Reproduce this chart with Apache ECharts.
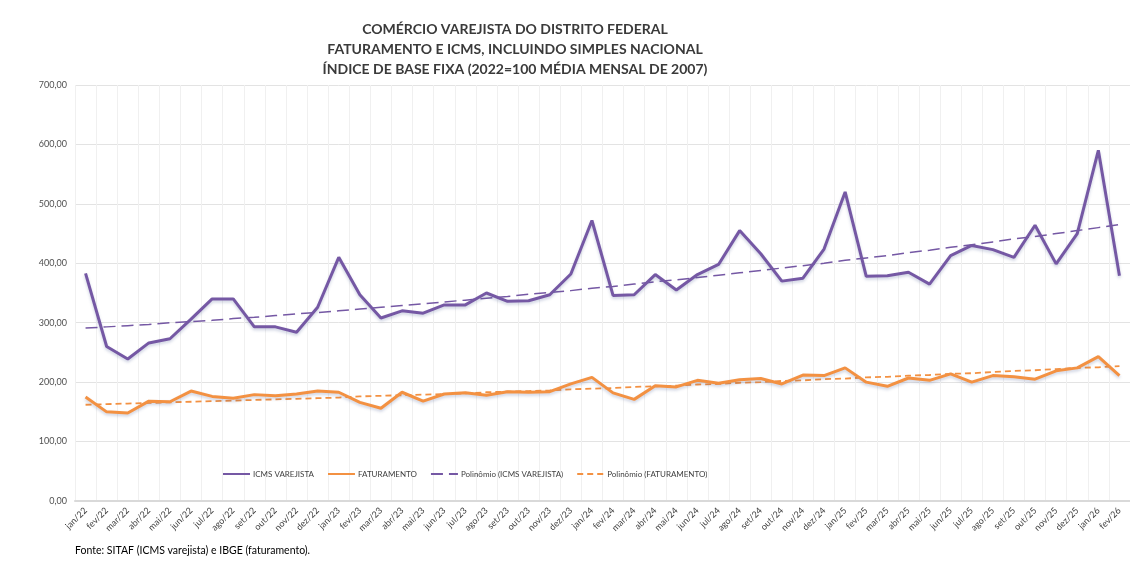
<!DOCTYPE html>
<html>
<head>
<meta charset="utf-8">
<script src="https://cdn.jsdelivr.net/npm/echarts@6/dist/echarts.min.js"></script>
<style>
html,body{margin:0;padding:0;background:#fff;}
#chart{width:1130px;height:564px;}
</style>
</head>
<body>
<div id="chart"></div>
<script>
const categories = ['jan/22','fev/22','mar/22','abr/22','mai/22','jun/22','jul/22','ago/22','set/22','out/22','nov/22','dez/22',
  'jan/23','fev/23','mar/23','abr/23','mai/23','jun/23','jul/23','ago/23','set/23','out/23','nov/23','dez/23',
  'jan/24','fev/24','mar/24','abr/24','mai/24','jun/24','jul/24','ago/24','set/24','out/24','nov/24','dez/24',
  'jan/25','fev/25','mar/25','abr/25','mai/25','jun/25','jul/25','ago/25','set/25','out/25','nov/25','dez/25',
  'jan/26','fev/26'];

const icmsVarejista = [383,260,239,266,273,306,340,340,293,293,284,326,
  410,347,308,320,316,330,330,350,336,337,347,382,
  472,346,347,381,355,381,398,455,416,370,375,424,
  520,378,379,385,365,413,430,423,410,464,399,450,
  590,379];

const faturamento = [175,150,148,168,167,185,176,173,179,177,180,185,
  183,166,156,183,168,180,182,178,184,183,184,197,
  208,182,171,194,192,203,198,204,206,197,212,211,
  224,200,193,207,203,214,200,211,209,205,219,224,
  243,211];

const polIcms = [291,293,295,297,300,302,304,307,309,312,315,317,
  320,323,326,329,332,335,338,341,344,348,351,354,
  358,361,365,369,372,376,380,384,388,392,396,400,
  405,409,413,418,422,427,431,436,441,445,450,455,
  460,465];

const polFat = [162,163,164,165,166,167,168,169,170,171,172,173,
  174,176,177,178,179,180,181,183,184,185,186,188,
  189,190,192,193,194,196,197,199,200,202,203,205,
  206,208,209,211,212,214,215,217,219,220,222,224,
  225,227];

const yTicks = [0,100,200,300,400,500,600,700];

const purple = '#7558a4';
const orange = '#f39142';
const font = 'Lato, "Open Sans", sans-serif';

const chart = echarts.init(document.getElementById('chart'), null, {renderer:'canvas'});
chart.setOption({
  backgroundColor:'#ffffff',
  animation:false,
  title:{
    text:'COMÉRCIO VAREJISTA DO DISTRITO FEDERAL\nFATURAMENTO E ICMS, INCLUINDO SIMPLES NACIONAL\nÍNDICE DE BASE FIXA (2022=100 MÉDIA MENSAL DE 2007)',
    left:510, top:14, textAlign:'center',
    textStyle:{fontFamily:font, fontSize:14, fontWeight:'bold', color:'#3a3a3a', lineHeight:20}
  },
  legend:{
    left:222, top:470, padding:0,
    itemWidth:27, itemHeight:10, itemGap:13,
    itemStyle:{opacity:0},
    textStyle:{fontFamily:font, fontSize:8, color:'#404040', padding:[0,0,0,-2]},
    data:['ICMS VAREJISTA','FATURAMENTO','Polinômio (ICMS VAREJISTA)','Polinômio (FATURAMENTO)']
  },
  graphic:[{
    type:'text', left:75, top:545,
    style:{text:'Fonte: SITAF (ICMS varejista) e IBGE (faturamento).', fontFamily:font, fontSize:10.5, fill:'#000'}
  }],
  grid:{left:75, right:-10, top:85, bottom:63, containLabel:false},
  xAxis:{
    type:'category', data:categories, boundaryGap:true,
    axisLine:{show:true, lineStyle:{color:'#d9d9d9', width:2}},
    axisTick:{show:false},
    splitLine:{show:true, lineStyle:{color:'#f0f0f0', width:1}},
    axisLabel:{interval:0, rotate:45, fontFamily:font, fontSize:9, color:'#404040', margin:8}
  },
  yAxis:{
    type:'value', min:yTicks[0], max:yTicks[yTicks.length-1], interval:100,
    axisLine:{show:false}, axisTick:{show:false},
    splitLine:{lineStyle:{color:'#e3e3e3', width:1}},
    axisLabel:{fontFamily:font, fontSize:9, color:'#505050', margin:8,
      formatter:v=>v.toFixed(2).replace('.',',')}
  },
  series:[
    {name:'ICMS VAREJISTA', type:'line', data:icmsVarejista, symbol:'none', z:4,
      color:purple,
      lineStyle:{color:purple, width:3, shadowColor:'rgba(60,80,140,0.25)', shadowBlur:3, shadowOffsetY:2}},
    {name:'FATURAMENTO', type:'line', data:faturamento, symbol:'none', z:4,
      color:orange,
      lineStyle:{color:orange, width:3, shadowColor:'rgba(60,80,140,0.25)', shadowBlur:3, shadowOffsetY:2}},
    {name:'Polinômio (ICMS VAREJISTA)', type:'line', data:polIcms, symbol:'none', z:3,
      color:purple,
      lineStyle:{color:purple, width:1.5, type:[12,6]}},
    {name:'Polinômio (FATURAMENTO)', type:'line', data:polFat, symbol:'none', z:3,
      color:orange,
      lineStyle:{color:orange, width:1.8, type:[6,4]}}
  ]
});
</script>
</body>
</html>
